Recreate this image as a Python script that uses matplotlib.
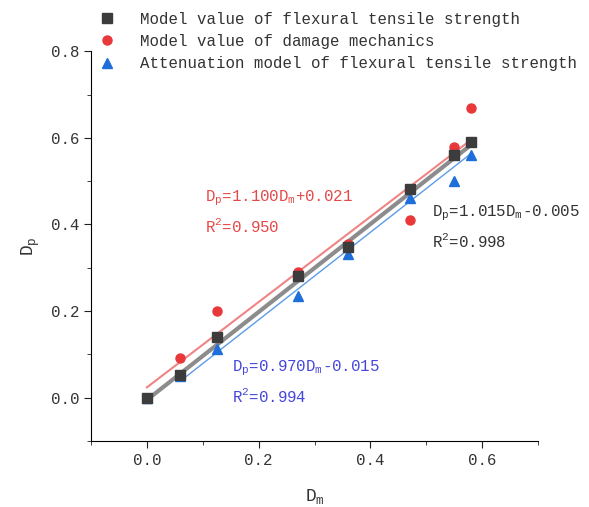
import matplotlib.pyplot as plt
import numpy as np

plt.rcParams['font.family'] = ['Liberation Mono', 'DejaVu Sans']
plt.rcParams['mathtext.fontset'] = 'custom'
plt.rcParams['mathtext.rm'] = 'Liberation Mono'
plt.rcParams['mathtext.it'] = 'Liberation Mono'

# data
dm = [0.0, 0.06, 0.125, 0.27, 0.36, 0.47, 0.55, 0.58]
dp_flexural = [0.0, 0.053, 0.141, 0.282, 0.349, 0.481, 0.56, 0.59]
dp_damage = [0.0, 0.092, 0.201, 0.29, 0.354, 0.41, 0.58, 0.67]
dp_attenuation = [0.0, 0.05, 0.113, 0.234, 0.333, 0.46, 0.50, 0.56]

# fit lines as they are drawn in the picture (slope, intercept)
line_flexural = (1.015, -0.005)
line_damage = (0.985, 0.024)
line_attenuation = (1.01, -0.022)

# equations printed on the chart
eq_damage = '$\\mathregular{D_p}$=1.100$\\mathregular{D_m}$+0.021\nR$^2$=0.950'
eq_flexural = '$\\mathregular{D_p}$=1.015$\\mathregular{D_m}$-0.005\nR$^2$=0.998'
eq_attenuation = '$\\mathregular{D_p}$=0.970$\\mathregular{D_m}$-0.015\nR$^2$=0.994'

labels = ['Model value of flexural tensile strength',
          'Model value of damage mechanics',
          'Attenuation model of flexural tensile strength']

fig = plt.figure(figsize=(5.89, 5.07), dpi=100)
ax = fig.add_axes([0.1545, 0.130, 0.759, 0.769])

xs = np.array([dm[0], dm[-1]])
xs_att = np.array([dm[1], dm[-1]])
ax.plot(xs, line_damage[0] * xs + line_damage[1], color='#f08484', lw=1.5, zorder=2)
ax.plot(xs, line_flexural[0] * xs + line_flexural[1], color='#8c8c8c', lw=3, zorder=2)
ax.plot(xs_att, line_attenuation[0] * xs_att + line_attenuation[1], color='#5c9ce6', lw=1, zorder=2)

ax.plot(dm, dp_flexural, 's', color='#3c3c3c', ms=6.5, ls='none', label=labels[0], zorder=4)
ax.plot(dm, dp_damage, 'o', color='#e8383a', ms=6.5, ls='none', label=labels[1], zorder=3)
ax.plot(dm, dp_attenuation, '^', color='#1e6fd9', ms=7, ls='none', label=labels[2], zorder=3)

ax.text(0.104, 0.43, eq_damage, color='#e64848', fontsize=11.3, va='center', linespacing=1.6)
ax.text(0.51, 0.395, eq_flexural, color='#333333', fontsize=11.3, va='center', linespacing=1.6)
ax.text(0.152, 0.037, eq_attenuation, color='#4646dc', fontsize=11.3, va='center', linespacing=1.6)

ax.set_xlim(-0.1, 0.7)
ax.set_ylim(-0.1, 0.8)
ax.set_xticks([0.0, 0.2, 0.4, 0.6])
ax.set_xticks([-0.1, 0.1, 0.3, 0.5, 0.7], minor=True)
ax.set_yticks([0.0, 0.2, 0.4, 0.6, 0.8])
ax.set_yticks([-0.1, 0.1, 0.3, 0.5, 0.7], minor=True)
ax.set_xticklabels(['0.0', '0.2', '0.4', '0.6'])
ax.set_yticklabels(['0.0', '0.2', '0.4', '0.6', '0.8'])
ax.tick_params(which='major', direction='out', length=5, labelsize=11.3, color='#222222',
               labelcolor='#333333')
ax.tick_params(which='minor', direction='out', length=3, color='#222222')
ax.spines['top'].set_visible(False)
ax.spines['right'].set_visible(False)
ax.spines['left'].set_bounds(-0.1, 0.8)

ax.set_xlabel('$\\mathregular{D_m}$', fontsize=13, labelpad=14, color='#333333')
ax.set_ylabel('$\\mathregular{D_p}$', fontsize=13, labelpad=6, color='#333333')

fig.legend(loc='upper left', bbox_to_anchor=(0.166, 0.977), frameon=False,
           fontsize=11.3, handletextpad=1.5, labelspacing=0.46, handlelength=1.2,
           borderpad=0, borderaxespad=0, labelcolor='#333333')

plt.savefig('out.png', dpi=100)
plt.close(fig)
